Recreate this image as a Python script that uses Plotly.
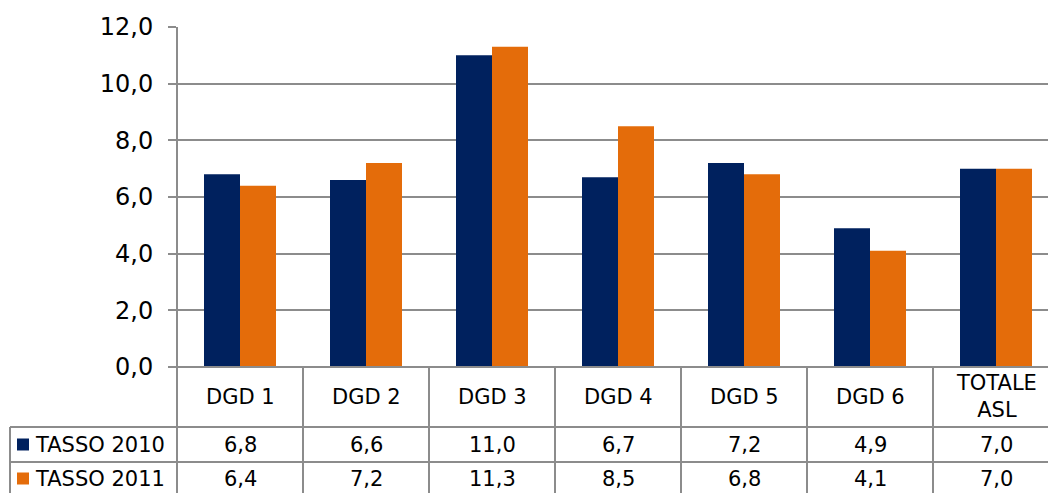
import plotly.graph_objects as go

categories = ["DGD 1", "DGD 2", "DGD 3", "DGD 4", "DGD 5", "DGD 6", "TOTALE<br>ASL"]
series_names = ["TASSO 2010", "TASSO 2011"]
tasso_2010 = [6.8, 6.6, 11.0, 6.7, 7.2, 4.9, 7.0]
tasso_2011 = [6.4, 7.2, 11.3, 8.5, 6.8, 4.1, 7.0]
colors = ["#00215E", "#E46C0A"]
y_ticks = [0, 2, 4, 6, 8, 10, 12]

W, H = 1048, 493
L, R, T, B = 177, 0, 27, 126
pw, ph = W - L - R, H - T - B
cat_px = 126.0

FONT = "DejaVu Sans"
GRID = "#8C8C8C"
TFS = 21

def px_x(px):
    return (px - L) / pw

def px_y(py):
    return (H - B - py) / ph

fig = go.Figure()
xs = list(range(len(categories)))
for name, vals, c in zip(series_names, [tasso_2010, tasso_2011], colors):
    fig.add_trace(go.Bar(x=xs, y=vals, name=name, marker=dict(color=c, line=dict(width=0)),
                         showlegend=False, hoverinfo="skip"))

x_max = -0.5 + pw / cat_px

fig.update_layout(
    width=W, height=H,
    margin=dict(l=L, r=R, t=T, b=B, pad=0),
    paper_bgcolor="white", plot_bgcolor="white",
    barmode="group", bargap=54 / 126, bargroupgap=0,
    separators=",.",
    font=dict(family=FONT, color="black"),
    xaxis=dict(range=[-0.5, x_max], showticklabels=False, showgrid=False, zeroline=False,
               ticks="", showline=False, fixedrange=True),
    yaxis=dict(range=[0, 12], tickvals=y_ticks, tickformat=".1f", showgrid=True,
               gridcolor=GRID, gridwidth=2, zeroline=False, ticks="outside", ticklen=8,
               tickcolor=GRID, tickwidth=2, tickfont=dict(size=24, family=FONT),
               showline=False, ticklabelstandoff=10, fixedrange=True),
)

shapes = []
line = dict(color=GRID, width=2)
shapes.append(dict(type="line", xref="paper", yref="paper", x0=0, x1=0, y0=1, y1=px_y(H + 5), line=line, layer="above"))
shapes.append(dict(type="line", xref="paper", yref="paper", x0=0, x1=1.02, y0=0, y1=0, line=line, layer="above"))
for py in [427, 462]:
    shapes.append(dict(type="line", xref="paper", yref="paper", x0=px_x(10), x1=1.02, y0=px_y(py), y1=px_y(py), line=line, layer="above"))
shapes.append(dict(type="line", xref="paper", yref="paper", x0=px_x(10), x1=px_x(10), y0=px_y(427), y1=px_y(H + 5), line=line, layer="above"))
for i in range(len(categories) - 1):
    shapes.append(dict(type="line", xref="x", yref="paper", x0=i + 0.5, x1=i + 0.5, y0=0, y1=px_y(H + 5), line=line, layer="above"))
for c, cy in zip(colors, [444.5, 478.5]):
    shapes.append(dict(type="rect", xref="paper", yref="paper", x0=px_x(17), x1=px_x(29),
                       y0=px_y(cy + 6), y1=px_y(cy - 6), fillcolor=c, line=dict(width=0)))
fig.update_layout(shapes=shapes)

ann = []
for i, cat in enumerate(categories):
    ann.append(dict(x=i, xref="x", y=px_y(397), yref="paper", text=cat, showarrow=False,
                    font=dict(size=TFS, family=FONT), xanchor="center", yanchor="middle"))
for vals, cy in zip([tasso_2010, tasso_2011], [444.5, 478.5]):
    for i, v in enumerate(vals):
        ann.append(dict(x=i, xref="x", y=px_y(cy), yref="paper", text=f"{v:.1f}".replace(".", ","),
                        showarrow=False, font=dict(size=TFS, family=FONT), xanchor="center", yanchor="middle"))
for name, cy in zip(series_names, [444.5, 478.5]):
    ann.append(dict(x=px_x(33), xref="paper", y=px_y(cy), yref="paper", text=name, showarrow=False,
                    font=dict(size=TFS, family=FONT), xanchor="left", yanchor="middle"))
fig.update_layout(annotations=ann)

fig.write_html("out.html", config={"displayModeBar": False, "staticPlot": True},
               post_script="document.body.style.margin='0';document.body.style.overflow='hidden';")
